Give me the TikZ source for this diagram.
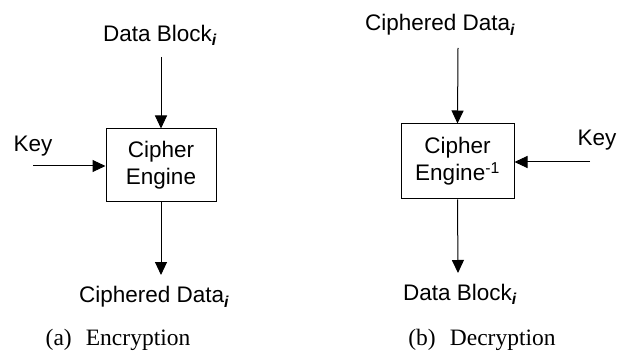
\documentclass[tikz,border=0pt]{standalone}
\usepackage{fontspec}
\setmainfont{Liberation Serif}
\setsansfont{Liberation Sans}
\usetikzlibrary{arrows.meta}
\begin{document}
\begin{tikzpicture}[x=1pt,y=-1pt,
  lbl/.style={font=\sffamily\fontsize{22.5}{26}\selectfont, inner sep=0pt},
  captext/.style={font=\rmfamily\fontsize{23.5}{27}\selectfont, inner sep=0pt},
  engine/.style={draw, line width=1pt, font=\sffamily\fontsize{22.5}{27}\selectfont, align=center, inner sep=0pt},
  flow/.style={line width=1pt, -{Triangle[length=13pt,width=12pt]}}]
\useasboundingbox (0,0) rectangle (621,358);
% (a) Encryption
\node[lbl] (din) at (160,35) {Data Block\textsubscript{\bfseries\itshape i}};
\node[engine, minimum width=110pt, minimum height=73pt] (enc) at (161,165.5) {Cipher\\Engine};
\node[lbl] (kin) at (33,146) {Key};
\coordinate (ka) at (33,166);
\coordinate (dtop) at (161,57);
\coordinate (dbot) at (161,275);
\node[lbl] (cout) at (154,297) {Ciphered Data\textsubscript{\bfseries\itshape i}};
\node[captext] (capa) at (118,340) {(a)\hspace{0.6em}Encryption};
\draw[flow] (dtop) -- (enc.north);
\draw[flow] (ka) -- (ka -| enc.west);
\draw[flow] (enc.south) -- (dbot);
% (b) Decryption
\node[lbl] (cin) at (440,25) {Ciphered Data\textsubscript{\bfseries\itshape i}};
\node[engine, minimum width=113pt, minimum height=75pt] (dec) at (457.5,161.5) {Cipher\\Engine\textsuperscript{-1}};
\node[lbl] (kin2) at (597,140) {Key};
\coordinate (kb) at (590,162);
\coordinate (ctop) at (458,48);
\coordinate (cbot) at (458,273);
\node[lbl] (dout) at (460,294) {Data Block\textsubscript{\bfseries\itshape i}};
\node[captext] (capb) at (482,340) {(b)\hspace{0.6em}Decryption};
\draw[flow] (ctop) -- (dec.north);
\draw[flow] (kb) -- (kb -| dec.east);
\draw[flow] (dec.south) -- (cbot);
\end{tikzpicture}
\end{document}
